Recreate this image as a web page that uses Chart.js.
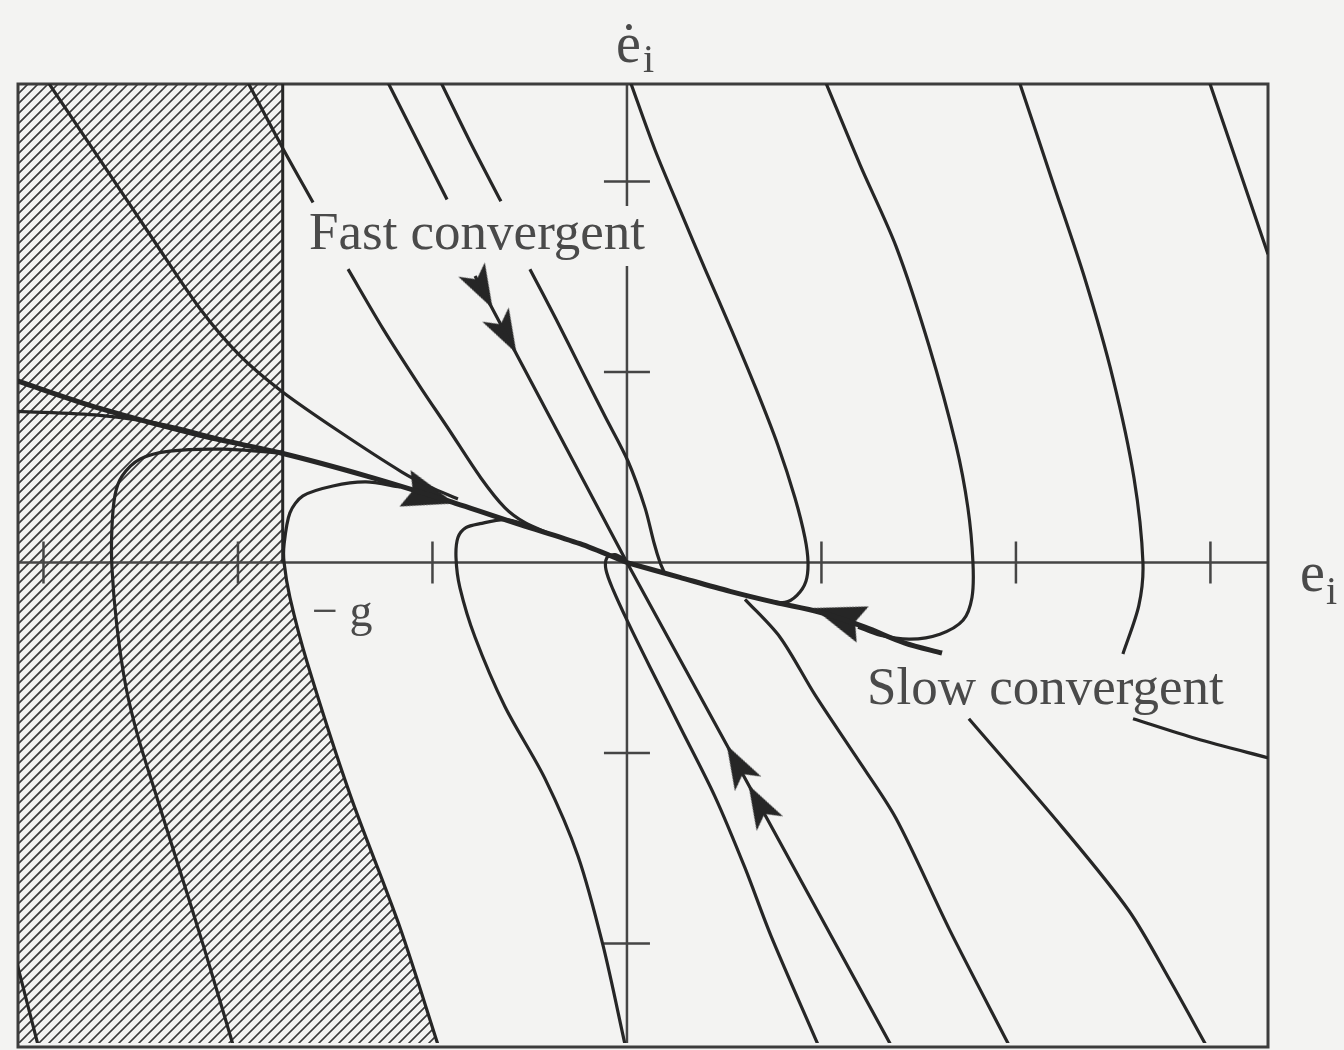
<!DOCTYPE html>
<html><head><meta charset="utf-8">
<script src="https://cdn.jsdelivr.net/npm/chart.js@4.4.1/dist/chart.umd.min.js"></script>
<style>html,body{margin:0;padding:0;background:#f3f3f2;} #wrap{width:1344px;height:1050px;}</style>
</head><body><div id="wrap"><canvas id="c" width="1344" height="1050"></canvas></div>
<script>
// ---- axis ranges and ticks ----
const xRange = [-3.131, 3.296];
const yRange = [-2.522, 2.512];
const xTicks = [-3, -2, -1, 1, 2, 3];
const yTicks = [-2, -1, 1, 2];
const gValue = 1.77;

// ---- trajectories (e_i, de_i) ----
const curveA = [[-2.982,2.53],[-2.710,2.115],[-2.437,1.697],[-2.195,1.332],[-1.990,1.086],[-1.774,0.898],[-1.481,0.689],[-1.157,0.475],[-1.013,0.397],[-0.869,0.334]];
const sepLeft = [[-3.14,0.955],[-2.710,0.809],[-2.195,0.668],[-1.774,0.574],[-1.337,0.454],[-0.920,0.324],[-0.545,0.198],[-0.242,0.099],[0,0]];
const sepLeft2 = [[-3.14,0.794],[-2.710,0.773],[-2.365,0.721],[-1.990,0.621]];
const slowRight = [[0,0],[0.272,-0.078],[0.530,-0.151],[0.761,-0.209],[0.992,-0.261],[1.224,-0.339],[1.429,-0.423],[1.620,-0.475]];
const curveU1 = [[-2.026,-2.53],[-2.170,-2.037],[-2.314,-1.567],[-2.427,-1.201],[-2.514,-0.914],[-2.576,-0.653],[-2.622,-0.339],[-2.648,-0.026],[-2.648,0.183],[-2.632,0.355],[-2.596,0.454],[-2.504,0.543],[-2.350,0.585],[-2.077,0.595],[-1.774,0.574]];
const curveU2 = [[-0.972,-2.53],[-1.167,-1.916],[-1.424,-1.217],[-1.645,-0.522],[-1.733,-0.183],[-1.763,0],[-1.763,0.094],[-1.733,0.261],[-1.666,0.350],[-1.512,0.402],[-1.342,0.423],[-1.167,0.397]];
const curveU3 = [[-0.010,-2.53],[-0.123,-2.010],[-0.252,-1.540],[-0.422,-1.133],[-0.627,-0.757],[-0.781,-0.392],[-0.859,-0.131],[-0.879,0.026],[-0.869,0.131],[-0.828,0.183],[-0.756,0.204],[-0.627,0.225],[-0.499,0.193]];
const curveU4 = [[0.982,-2.53],[0.740,-1.958],[0.607,-1.603],[0.452,-1.227],[0.278,-0.872],[0.118,-0.548],[0.005,-0.313],[-0.072,-0.141],[-0.108,-0.037],[-0.103,0.026],[-0.062,0.042],[-0.010,0.016]];
const fastTop = [[-1.234,2.53],[-0.925,1.906]];
const fastUpper = [[-0.781,1.504],[0,0]];
const fastLower = [[0,0],[1.357,-2.533]];
const curveDTop = [[-0.961,2.53],[-0.807,2.209],[-0.648,1.896]];
const curveD = [[-0.499,1.540],[-0.365,1.279],[-0.237,1.018],[-0.113,0.768],[0.005,0.533],[0.093,0.287],[0.139,0.104],[0.170,0],[0.190,-0.047]];
const curveBTop = [[-1.954,2.53],[-1.774,2.183],[-1.614,1.890]];
const curveB = [[-1.434,1.540],[-1.254,1.227],[-1.064,0.924],[-0.920,0.705],[-0.751,0.444],[-0.627,0.287],[-0.524,0.209],[-0.396,0.151]];
const curveE = [[0.015,2.53],[0.144,2.167],[0.278,1.838],[0.406,1.530],[0.535,1.227],[0.663,0.914],[0.776,0.616],[0.864,0.339],[0.915,0.131],[0.931,0],[0.920,-0.099],[0.874,-0.172],[0.812,-0.209],[0.710,-0.198]];
const curveF = [[1.018,2.53],[1.198,2.089],[1.383,1.661],[1.553,1.138],[1.692,0.616],[1.753,0.287],[1.779,0],[1.774,-0.183],[1.728,-0.303],[1.609,-0.376],[1.455,-0.402],[1.301,-0.381],[1.188,-0.339]];
const curveG = [[2.015,2.53],[2.185,2.010],[2.355,1.488],[2.499,0.966],[2.607,0.444],[2.653,0],[2.632,-0.225],[2.550,-0.480]];
const curveH = [[2.992,2.53],[3.296,1.619]];
const curveDown1 = [[0.607,-0.193],[0.787,-0.392],[0.967,-0.695],[1.177,-1.018],[1.383,-1.342],[1.661,-1.932],[1.964,-2.533]];
const curveDown2 = [[1.758,-0.820],[2.242,-1.394],[2.581,-1.828],[2.792,-2.193],[2.977,-2.533]];
const curveDown3 = [[2.602,-0.820],[2.925,-0.924],[3.31,-1.029]];
const curveCorner = [[-3.14,-2.089],[-3.028,-2.533]];
const gLine = [[-gValue, 2.53],[-gValue, 0]];

// arrow heads: position + direction of motion
const arrows = [
  {x:-0.745, y:1.436, dx:0.53, dy:-1, s:'fast'},
  {x:-0.622, y:1.200, dx:0.53, dy:-1, s:'fast'},
  {x:0.568, y:-1.060, dx:-0.54, dy:1, s:'fast'},
  {x:0.680, y:-1.269, dx:-0.54, dy:1, s:'fast'},
  {x:-1.013, y:0.350, dx:1, dy:-0.31, s:'big'},
  {x:1.085, y:-0.282, dx:-1, dy:0.34, s:'big'}
];

const INK = '#262626';
const BG = '#f3f3f2';
const toPts = a => a.map(p => ({x:p[0], y:p[1]}));
function line(arr, w) {
  return {data: toPts(arr), showLine: true, borderColor: INK, borderWidth: w || 3.2,
    pointRadius: 0, tension: 0.3, fill: false, borderCapStyle: 'butt', borderJoinStyle: 'round'};
}
function makeArrow(w, h, notch) {
  const c = document.createElement('canvas'); c.width = w; c.height = h;
  const g = c.getContext('2d'); g.fillStyle = INK;
  g.beginPath(); g.moveTo(w/2, 0); g.lineTo(w, h); g.lineTo(w/2, h - notch); g.lineTo(0, h); g.closePath(); g.fill();
  return c;
}
const fastArrow = makeArrow(30, 44, 11);
const bigArrow = makeArrow(38, 52, 8);

const datasets = [
  line(gLine, 3),
  line(curveA), line(sepLeft2), line(curveU1), line(curveU2), line(curveU3), line(curveU4),
  line(fastTop), line(fastUpper), line(fastLower),
  line(curveDTop), line(curveD), line(curveBTop), line(curveB),
  line(curveE), line(curveF), line(curveG), line(curveH),
  line(curveDown1), line(curveDown2), line(curveDown3), line(curveCorner),
  line(sepLeft, 5), line(slowRight, 5),
  {data: arrows, showLine: false, pointRadius: 6,
   pointStyle: ctx => (ctx.raw && ctx.raw.s === 'big') ? bigArrow : fastArrow,
   pointRotation: ctx => {
     const p = ctx.raw; if (!p) return 0;
     const xs = ctx.chart.scales.x, ys = ctx.chart.scales.y;
     const sx = xs.getPixelForValue(p.x + p.dx * 0.1) - xs.getPixelForValue(p.x);
     const sy = ys.getPixelForValue(p.y + p.dy * 0.1) - ys.getPixelForValue(p.y);
     return Math.atan2(sx, -sy) * 180 / Math.PI;
   }}
];

const bgPlugin = {id:'bg', beforeDraw(chart){const c=chart.ctx; c.save(); c.fillStyle=BG; c.fillRect(0,0,chart.width,chart.height); c.restore();}};

const hatchPlugin = {id:'hatch', beforeDatasetsDraw(chart){
  const {ctx, chartArea:a, scales:{x, y}} = chart;
  ctx.save();
  ctx.beginPath(); ctx.rect(a.left, a.top, a.right - a.left, a.bottom - a.top); ctx.clip();
  const gx = x.getPixelForValue(-gValue), y0 = y.getPixelForValue(0);
  const lower = curveU2.filter(p => p[1] < 0).slice().reverse();
  ctx.beginPath();
  ctx.moveTo(a.left, a.top); ctx.lineTo(gx, a.top); ctx.lineTo(gx, y0);
  lower.forEach(p => ctx.lineTo(x.getPixelForValue(p[0]), y.getPixelForValue(p[1])));
  ctx.lineTo(x.getPixelForValue(lower[lower.length-1][0]), a.bottom + 5);
  ctx.lineTo(a.left, a.bottom + 5); ctx.closePath(); ctx.clip();
  ctx.strokeStyle = '#3a3a3a'; ctx.lineWidth = 1.6;
  const H = a.bottom - a.top + 20;
  ctx.beginPath();
  for (let k = -H; k < 600; k += 10) { ctx.moveTo(a.left + k, a.bottom + 10); ctx.lineTo(a.left + k + H, a.bottom + 10 - H); }
  ctx.stroke();
  ctx.restore();
  // axes, ticks, frame
  ctx.save();
  const x0 = x.getPixelForValue(0);
  ctx.strokeStyle = '#454545'; ctx.lineWidth = 2.5;
  ctx.beginPath();
  ctx.moveTo(a.left, y0); ctx.lineTo(a.right, y0);
  ctx.moveTo(x0, a.top); ctx.lineTo(x0, a.bottom);
  xTicks.forEach(v => { const px = x.getPixelForValue(v); ctx.moveTo(px, y0 - 21); ctx.lineTo(px, y0 + 21); });
  yTicks.forEach(v => { const py = y.getPixelForValue(v); ctx.moveTo(x0 - 23, py); ctx.lineTo(x0 + 23, py); });
  ctx.stroke();
  ctx.lineWidth = 3; ctx.strokeStyle = '#3c3c3c';
  ctx.strokeRect(a.left, a.top, a.right - a.left, a.bottom - a.top + 4);
  // text backgrounds (mask axis behind labels)
  ctx.fillStyle = BG;
  ctx.fillRect(305, 206, 345, 60);
  ctx.restore();
}};

const textPlugin = {id:'txt', afterDatasetsDraw(chart){
  const c = chart.ctx; c.save();
  c.fillStyle = '#4a4a4a'; c.textBaseline = 'alphabetic'; c.textAlign = 'left';
  c.font = '53px "Liberation Serif"';
  c.fillText('Fast convergent', 309, 249);
  c.fillText('Slow convergent', 867, 704);
  c.font = '46px "Liberation Serif"';
  c.fillText('\u2212 g', 312, 626);
  c.font = '56px "Liberation Serif"';
  c.fillText('\u0117', 616, 62);
  c.fillText('e', 1300, 591);
  c.font = '40px "Liberation Serif"';
  c.fillText('i', 643, 72);
  c.fillText('i', 1326, 604);
  c.restore();
}};

new Chart(document.getElementById('c'), {
  type: 'scatter',
  data: {datasets},
  options: {
    responsive: false, animation: false, events: [], devicePixelRatio: 1,
    layout: {padding: {left: 18, right: 76, top: 84, bottom: 2}},
    scales: {
      x: {type: 'linear', min: xRange[0], max: xRange[1], display: false},
      y: {type: 'linear', min: yRange[0], max: yRange[1], display: false}
    },
    plugins: {legend: {display: false}, tooltip: {enabled: false}}
  },
  plugins: [bgPlugin, hatchPlugin, textPlugin]
});
</script></body></html>
